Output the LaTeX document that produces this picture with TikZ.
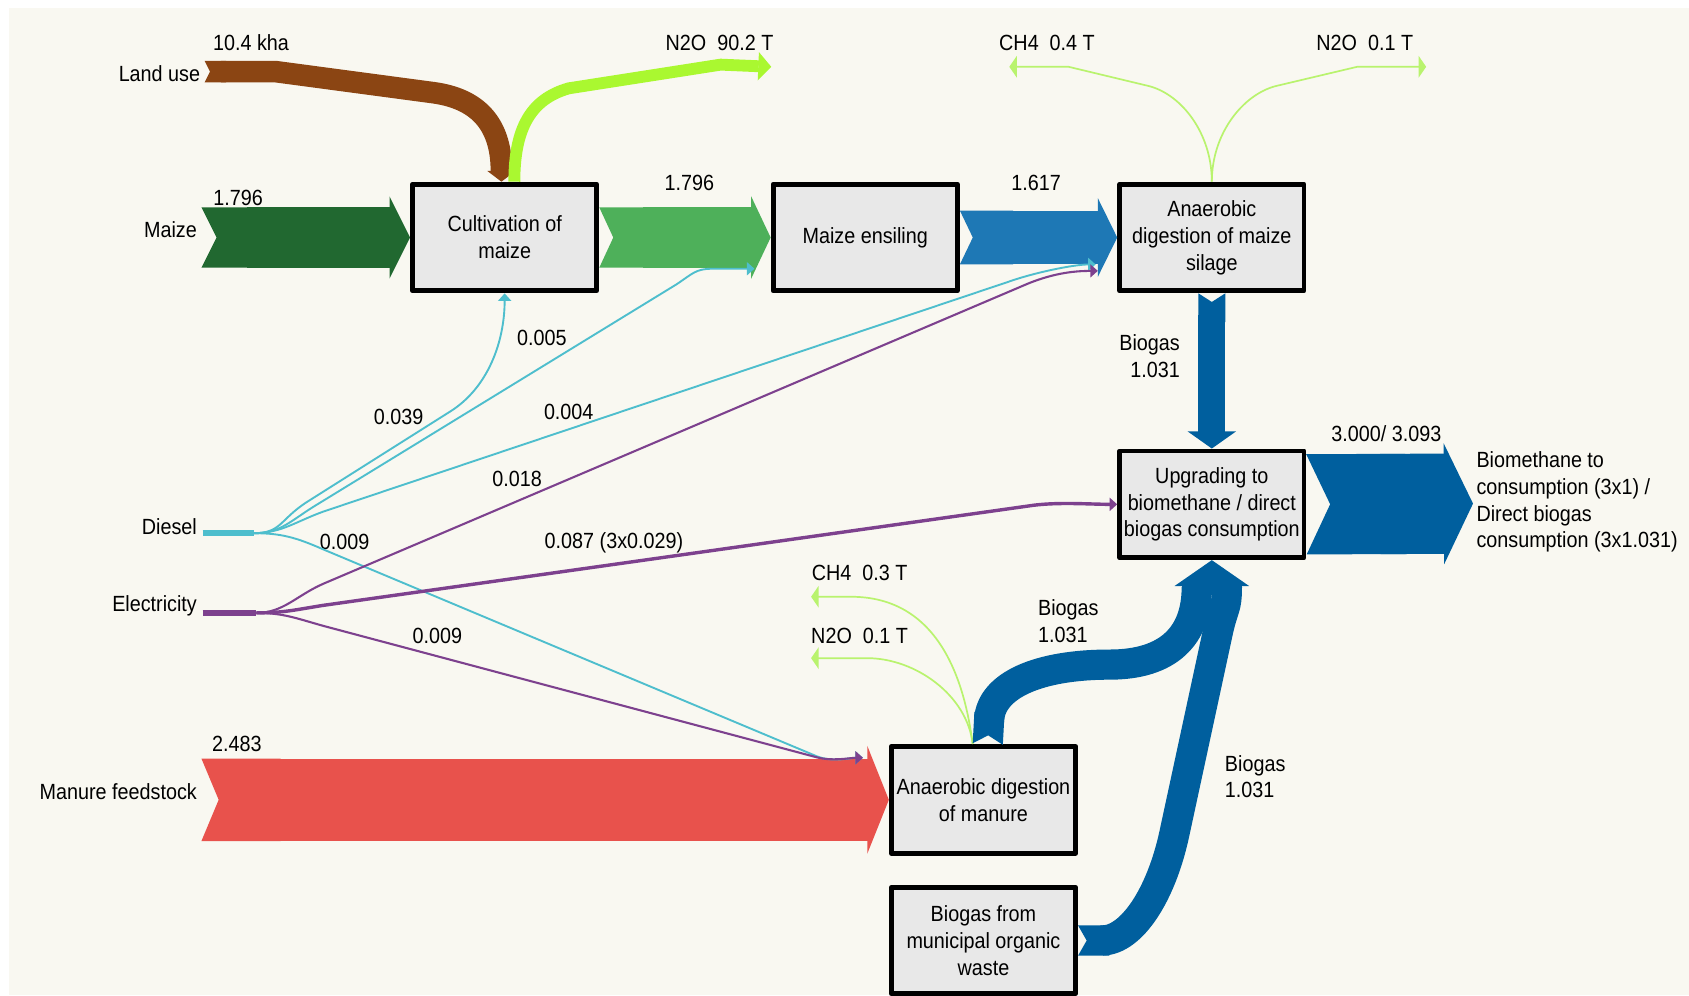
\documentclass[tikz,border=0pt]{standalone}
\usepackage{fontspec}
\setmainfont{Liberation Sans}[FakeStretch=0.9]
\usepackage{tikz}
\usetikzlibrary{arrows.meta, positioning, calc}

\definecolor{sfCream}{RGB}{249,248,241}
\definecolor{sfBoxFill}{RGB}{232,232,232}
\definecolor{sfMaize}{RGB}{33,104,48}
\definecolor{sfGreen}{RGB}{78,176,90}
\definecolor{sfBlue}{RGB}{30,120,181}
\definecolor{sfDeep}{RGB}{0,95,158}
\definecolor{sfRed}{RGB}{232,82,76}
\definecolor{sfBrown}{RGB}{139,69,19}
\definecolor{sfLime}{RGB}{170,248,48}
\definecolor{sfLight}{RGB}{185,243,110}
\definecolor{sfCyan}{RGB}{78,190,205}
\definecolor{sfPurple}{RGB}{125,65,142}

\tikzstyle{sfBox} = [draw, line width=1.3pt, fill=sfBoxFill, minimum width=1.71cm, minimum height=0.99cm, align=center, inner sep=1pt]
\tikzstyle{sfLabel} = [inner sep=1pt]
\tikzstyle{sfGas} = [draw=sfLight, line width=0.45pt, -{Triangle[length=0.07cm, width=0.2cm]}]

\tikzset{
  sfBand/.style n args={5}{draw=#1, line width=#2cm,
    {Triangle Cap[reversed, length=#5cm]}-{Triangle[length=#4cm, width=#3cm, line width=0.4pt]}},
  sfArrow/.style n args={4}{draw=#1, line width=#2cm,
    -{Triangle[length=#4cm, width=#3cm, line width=0.4pt]}},
  sfPipe/.style n args={3}{draw=#1, line width=#2cm, {Triangle Cap[reversed, length=#3cm]}-},
  sfHead/.style n args={3}{draw=#1, line width=#2cm, -{Triangle[length=0.24cm, width=#3cm, line width=0.4pt]}},
  sfWire/.style 2 args={draw=#1, line width=#2, -{Triangle[length=0.07cm, width=0.12cm]}},
  sfStub/.style={draw=#1, line width=0.06cm},
}

\begin{document}
\begin{tikzpicture}[x=0.01cm, y=-0.01cm, font=\fontsize{5.8}{7.1}\selectfont, line join=round]
        % Background
        \useasboundingbox (0,0) rectangle (1568,924);
        \fill [white] (0,0) rectangle (1568,924);
        \fill [sfCream] (8,7) rectangle (1568,924);

        % Nodes
        \node [sfBox] (cult) at (468.5,220.5) {Cultivation of\\maize};
        \node [sfBox, right=1.59cm of cult] (ensil) {Maize ensiling};
        \node [sfBox, right=1.46cm of ensil] (admaize) {Anaerobic\\digestion of maize\\silage};
        \node [sfBox, below=1.44cm of admaize] (upgr) {Upgrading to\\biomethane / direct\\biogas consumption};
        \node [sfBox] (admanure) at (913,742.5) {Anaerobic digestion\\of manure};
        \node [sfBox, below=0.27cm of admanure] (muni) {Biogas from\\municipal organic\\waste};

        % Labels
        \node [sfLabel] (landVal) at (233,40) {10.4 kha};
        \node [sfLabel, anchor=east] (landLbl) at (190,68) {Land use};
        \node [sfLabel] (n2oCultLbl) at (668,40) {N2O~~90.2 T};
        \node [sfLabel] (ch4MaizeLbl) at (972,40) {CH4~~0.4 T};
        \node [sfLabel] (n2oMaizeLbl) at (1267,40) {N2O~~0.1 T};
        \node [sfLabel] (maizeVal) at (221,184) {1.796};
        \node [sfLabel, anchor=east] (maizeLbl) at (187,213) {Maize};
        \node [sfLabel] (cultVal) at (640,170) {1.796};
        \node [sfLabel] (ensilVal) at (962,170) {1.617};
        \node [sfLabel] (v005) at (503,314) {0.005};
        \node [sfLabel] (v039) at (370,387) {0.039};
        \node [sfLabel] (v004) at (528,382) {0.004};
        \node [sfLabel] (v018) at (480,445) {0.018};
        \node [sfLabel] (v009d) at (320,503) {0.009};
        \node [sfLabel] (v087) at (570,504) {0.087 (3x0.029)};
        \node [sfLabel] (v009e) at (406,590) {0.009};
        \node [sfLabel, anchor=east] (dieselLbl) at (187,489) {Diesel};
        \node [sfLabel, anchor=east] (elecLbl) at (187,562) {Electricity};
        \node [sfLabel, anchor=east, align=right] (biogasA) at (1099.5,331) {Biogas\\1.031};
        \node [sfLabel] (outVal) at (1287,403) {3.000/ 3.093};
        \node [sfLabel, anchor=west, align=left] (outLbl) at (1366.5,466) {Biomethane to\\consumption (3x1) /\\Direct biogas\\consumption (3x1.031)};
        \node [sfLabel] (ch4ManLbl) at (798,532) {CH4~~0.3 T};
        \node [sfLabel] (n2oManLbl) at (798,590) {N2O~~0.1 T};
        \node [sfLabel, anchor=west, align=left] (biogasB) at (959.5,577) {Biogas\\1.031};
        \node [sfLabel] (manureVal) at (220,691) {2.483};
        \node [sfLabel, anchor=east] (manureLbl) at (187,735) {Manure feedstock};
        \node [sfLabel, anchor=west, align=left] (biogasC) at (1133,721) {Biogas\\1.031};

        % Free ends
        \coordinate (landIn) at (190,66.5);
        \coordinate (maizeIn) at (187,220.5);
        \coordinate (manureIn) at (187,742.5);
        \coordinate (dieselIn) at (188,495);
        \coordinate (dieselHub) at (236,495);
        \coordinate (elecIn) at (188,569);
        \coordinate (elecHub) at (238,569);
        \coordinate (outEnd) at (1367.5,467.5);
        \coordinate (n2oCultEnd) at (716,62);
        \coordinate (ch4MaizeEnd) at (937,62);
        \coordinate (n2oMaizeEnd) at (1324,62);
        \coordinate (ch4ManEnd) at (753,554);
        \coordinate (n2oManEnd) at (753,611);
        \coordinate (manTop) at ($(admanure.west)+(-24,-39)$);
        \coordinate (headBase) at ($(upgr.south)+(0,25)$);

        % Main flows
        \draw [sfBand={sfMaize}{0.56}{0.76}{0.19}{0.14}] (maizeIn) -- (cult.west);
        \draw [sfBand={sfGreen}{0.56}{0.76}{0.18}{0.13}] (cult.east) -- (ensil.west);
        \draw [sfBand={sfBlue}{0.50}{0.73}{0.18}{0.12}] (ensil.east) -- (admaize.west);
        \draw [sfBand={sfDeep}{0.25}{0.45}{0.16}{0.08}] (admaize.south) -- (upgr.north);
        \draw [sfBand={sfDeep}{0.93}{1.12}{0.27}{0.22}] (upgr.east) -- (outEnd);
        \draw [sfBand={sfRed}{0.765}{1.00}{0.20}{0.16}] (manureIn) -- (admanure.west);

        % Land use and emissions
        \draw [sfBand={sfBrown}{0.20}{0.26}{0.10}{0.05}] (landIn) -- (256,66.5) -- (402,86) .. controls +(45,6) and +(0,-50) .. ($(cult.north)+(-3,0)$);
        \draw [sfArrow={sfLime}{0.11}{0.26}{0.12}] ($(cult.north)+(9,0)$) .. controls +(0,-50) and +(-35,10) .. (528,82) -- (669,60) -- (n2oCultEnd);
        \draw [sfGas] (admaize.north) .. controls +(0,-45) and +(30,8) .. (1067,80) -- (992,62) -- (ch4MaizeEnd);
        \draw [sfGas] (admaize.north) .. controls +(0,-45) and +(-30,8) .. (1184,80) -- (1260,62) -- (n2oMaizeEnd);
        \draw [sfGas] ($(admanure.north)+(-10,0)$) .. controls +(-8,-62) and +(80,0) .. (790,554) -- (ch4ManEnd);
        \draw [sfGas] ($(admanure.north)+(-10,0)$) .. controls +(-5,-45) and +(45,0) .. (805,611) -- (n2oManEnd);

        % Biogas to upgrading
        \draw [sfPipe={sfDeep}{0.28}{0.08}] ($(admanure.north)+(4,0)$) .. controls +(3,-55) and +(-65,0) .. (1030,617) .. controls +(55,0) and +(0,45) .. ($(headBase)+(-14,0)$);
        \draw [sfPipe={sfDeep}{0.28}{0.08}] (muni.east) .. controls +(50,0) and +(-12,55) .. (1090,775) -- (1131,585) .. controls +(5,-22) and +(0,20) .. ($(headBase)+(14,0)$);
        \draw [sfHead={sfDeep}{0.56}{0.69}] ($(headBase)+(0,7)$) -- (upgr.south);

        % Diesel
        \draw [sfStub=sfCyan] (dieselIn) -- (dieselHub);
        \draw [sfWire={sfCyan}{0.5pt}] (dieselHub) .. controls +(25,0) and +(-25,16) .. (285,466) -- (418,382) .. controls +(35,-22) and +(0,45) .. (cult.south);
        \draw [sfWire={sfCyan}{0.5pt}] (dieselHub) .. controls +(25,0) and +(-25,15) .. (295,468) -- (628,264) .. controls +(15,-10) and +(-15,0) .. (661,249.5) -- ($(ensil.west)+(-15,29)$);
        \draw [sfWire={sfCyan}{0.5pt}] (dieselHub) .. controls +(25,0) and +(-25,9) .. (300,475) -- (935,262) .. controls +(25,-9) and +(-20,0) .. ($(admaize.west)+(-20,25)$);
        \draw [sfWire={sfCyan}{0.5pt}] (dieselHub) .. controls +(25,0) and +(-25,-11) .. (300,510) -- (758,702) .. controls +(15,6) and +(-12,0) .. (manTop);

        % Electricity
        \draw [sfStub=sfPurple] (elecIn) -- (elecHub);
        \draw [sfWire={sfPurple}{0.55pt}] (elecHub) .. controls +(25,0) and +(-25,11) .. (300,542) -- (955,263) .. controls +(25,-10) and +(-20,0) .. ($(admaize.west)+(-18,31)$);
        \draw [sfWire={sfPurple}{0.9pt}] (elecHub) .. controls +(25,0) and +(-25,4) .. (300,562) -- (960,469) .. controls +(25,-3) and +(-25,0) .. (upgr.west);
        \draw [sfWire={sfPurple}{0.55pt}] (elecHub) .. controls +(25,0) and +(-25,-7) .. (300,581) -- (758,703) .. controls +(15,4) and +(-12,0) .. (manTop);
\end{tikzpicture}
\end{document}
